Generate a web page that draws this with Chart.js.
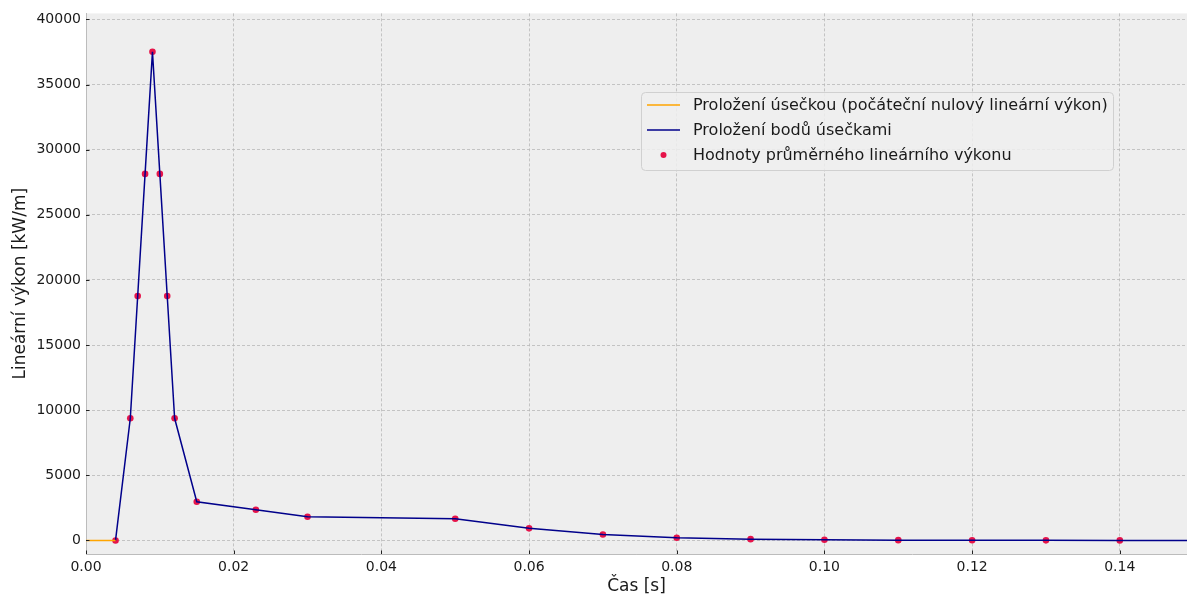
<!DOCTYPE html>
<html lang="cs">
<head>
<meta charset="utf-8">
<title>Lineární výkon</title>
<script src="https://cdn.jsdelivr.net/npm/chart.js@4.4.1/dist/chart.umd.min.js"></script>
<style>
  html, body { margin: 0; padding: 0; background: #fff; overflow: hidden; }
  #wrap { position: relative; width: 1187px; height: 597px; overflow: hidden; }
</style>
</head>
<body>
<div id="wrap"><canvas id="powerChart" width="1191" height="597"></canvas></div>
<script>
    // time samples [s] and averaged linear power [kW/m]
    const times = [0.004, 0.006, 0.007, 0.008, 0.009, 0.010, 0.011, 0.012, 0.015, 0.023, 0.030,
                   0.050, 0.060, 0.070, 0.080, 0.090, 0.100, 0.110, 0.120, 0.130, 0.140, 0.150];
    const power = [0, 9380, 18760, 28140, 37520, 28140, 18760, 9380, 2970, 2360, 1820,
                   1670, 930, 460, 210, 100, 50, 25, 12, 6, 3, 1];

    // initial segment with zero power
    const startTimes = [0, 0.004];
    const startPower = [0, 0];

    const xTicks = [0, 0.02, 0.04, 0.06, 0.08, 0.10, 0.12, 0.14];
    const yTicks = [0, 5000, 10000, 15000, 20000, 25000, 30000, 35000, 40000];

    const labels = [
      'Proložení úsečkou (počáteční nulový lineární výkon)',
      'Proložení bodů úsečkami',
      'Hodnoty průměrného lineárního výkonu'
    ];

    const toPoints = (xs, ys) => xs.map((x, i) => ({ x: x, y: ys[i] }));

    const FONT = "'DejaVu Sans', sans-serif";

    // grey plot background, inner tick marks and the legend box
    const plotDecor = {
      id: 'plotDecor',
      beforeDraw(chart) {
        const a = chart.chartArea;
        const c = chart.ctx;
        c.save();
        c.fillStyle = '#eeeeee';
        c.fillRect(a.left, a.top, a.right - a.left, a.bottom - a.top);
        c.restore();
      },
      afterDraw(chart) {
        const a = chart.chartArea;
        const c = chart.ctx;
        const xs = chart.scales.x, ys = chart.scales.y;
        c.save();
        c.strokeStyle = '#222';
        c.lineWidth = 1;
        c.beginPath();
        xTicks.forEach(v => {
          const px = Math.round(xs.getPixelForValue(v)) + 0.5;
          c.moveTo(px, a.bottom); c.lineTo(px, a.bottom - 3.5);
        });
        yTicks.forEach(v => {
          const py = Math.round(ys.getPixelForValue(v)) + 0.5;
          c.moveTo(a.left, py); c.lineTo(a.left + 3.5, py);
        });
        c.stroke();

        // legend
        const bx = 641.5, by = 92.5, bw = 472, bh = 78;
        c.fillStyle = 'rgba(238,238,238,0.85)';
        c.strokeStyle = '#d0d0d0';
        c.beginPath();
        c.roundRect(bx, by, bw, bh, 4);
        c.fill();
        c.stroke();

        const ds = chart.data.datasets;
        const rows = [105, 130, 155];
        c.font = '16px ' + FONT;
        c.textBaseline = 'middle';
        c.fillStyle = '#1a1a1a';
        rows.forEach((ry, i) => {
          const d = ds[i];
          if (i < 2) {
            c.strokeStyle = d.borderColor;
            c.lineWidth = 1.5;
            c.beginPath();
            c.moveTo(647, ry); c.lineTo(680, ry);
            c.stroke();
          } else {
            c.fillStyle = d.pointBackgroundColor;
            c.beginPath();
            c.arc(663.5, ry, 3, 0, Math.PI * 2);
            c.fill();
            c.fillStyle = '#1a1a1a';
          }
          c.fillText(d.label, 693, ry + 1);
        });
        c.restore();
      }
    };

    const ctx = document.getElementById('powerChart').getContext('2d');
    const chart = new Chart(ctx, {
      type: 'scatter',
      data: {
        datasets: [{
          label: labels[0],
          data: toPoints(startTimes, startPower),
          showLine: true,
          borderColor: '#ffa500',
          borderWidth: 1.5,
          pointRadius: 0,
          order: 1
        }, {
          label: labels[1],
          data: toPoints(times, power),
          showLine: true,
          borderColor: '#00008b',
          borderWidth: 1.5,
          pointRadius: 0,
          order: 2
        }, {
          label: labels[2],
          data: toPoints(times, power),
          showLine: false,
          pointBackgroundColor: '#e6144a',
          pointBorderWidth: 0,
          pointRadius: 3.3,
          order: 3
        }]
      },
      options: {
        responsive: false,
        animation: false,
        layout: { padding: { top: 13, right: 0, left: 0, bottom: 0 } },
        plugins: {
          legend: { display: false },
          tooltip: { enabled: false }
        },
        scales: {
          x: {
            type: 'linear',
            min: 0,
            max: 0.1491,
            afterBuildTicks: s => { s.ticks = xTicks.map(v => ({ value: v })); },
            afterFit: s => { s.height = 43; },
            ticks: {
              callback: v => v.toFixed(2),
              color: '#1a1a1a',
              font: { family: FONT, size: 14 },
              padding: 5,
              maxRotation: 0
            },
            grid: {
              color: '#b8b8b8',
              lineWidth: 0.8,
              drawTicks: false,
              tickLength: 0
            },
            border: { color: '#bcbcbc', width: 1, dash: [3, 2] },
            title: {
              display: true,
              text: 'Čas [s]',
              color: '#1a1a1a',
              font: { family: FONT, size: 17 },
              padding: { top: 1, bottom: 0 }
            }
          },
          y: {
            type: 'linear',
            min: -1040,
            max: 40460,
            afterBuildTicks: s => { s.ticks = yTicks.map(v => ({ value: v })); },
            afterFit: s => { s.width = 86; },
            ticks: {
              callback: v => String(v),
              color: '#1a1a1a',
              font: { family: FONT, size: 14 },
              padding: 5
            },
            grid: {
              color: '#b8b8b8',
              lineWidth: 0.8,
              drawTicks: false,
              tickLength: 0
            },
            border: { color: '#bcbcbc', width: 1, dash: [3, 2] },
            title: {
              display: true,
              text: 'Lineární výkon [kW/m]',
              color: '#1a1a1a',
              font: { family: FONT, size: 17 },
              padding: { top: 10, bottom: 4 }
            }
          }
        }
      },
      plugins: [plotDecor]
    });
</script>
</body>
</html>
